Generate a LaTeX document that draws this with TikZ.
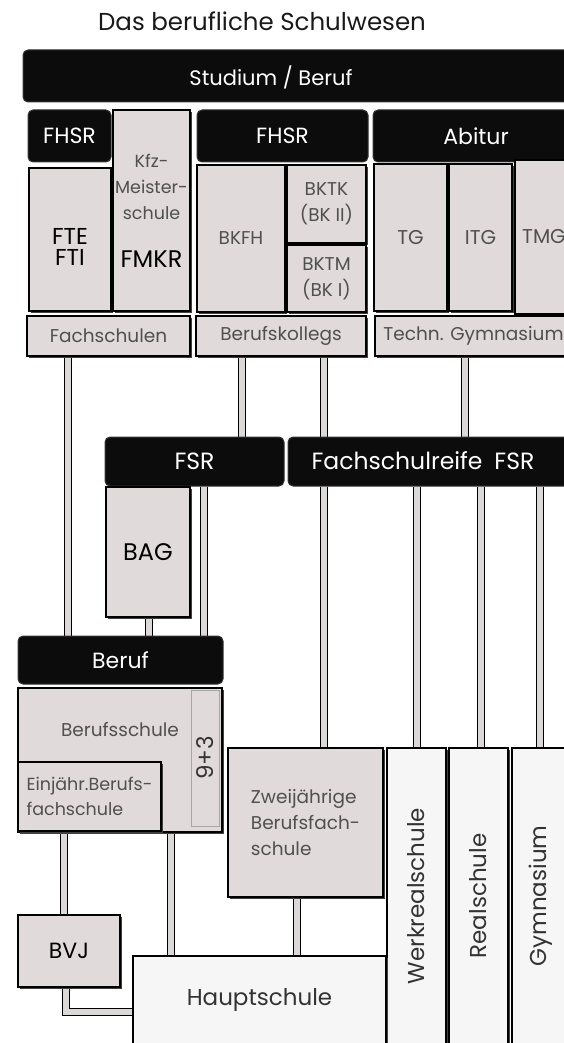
\documentclass[tikz,border=0pt]{standalone}
\usepackage{fontspec}
\usepackage{graphicx}
\setmainfont{Poppins}
\usetikzlibrary{shadows,backgrounds}
\definecolor{boxgray}{HTML}{E0DADA}
\definecolor{boxwhite}{HTML}{F7F6F6}
\definecolor{pipegray}{HTML}{DCD8D8}
\definecolor{txtgray}{HTML}{505050}
\definecolor{barblack}{HTML}{0C0C0C}
% #1 style, #2 name, #3 x1, #4 y1, #5 x2, #6 y2, #7 text
\newcommand{\bxnode}[7]{%
  \node[#1, minimum width={((#5)-(#3))*1pt}, minimum height={((#6)-(#4))*1pt}]
    (#2) at ({((#3)+(#5))/2},{((#4)+(#6))/2}) {#7};}
\begin{document}
\begin{tikzpicture}[x=1pt,y=-1pt,
  gbox/.style={draw=black, line width=1.1pt, fill=boxgray, inner sep=0pt, text=txtgray,
    font=\fontsize{18.5}{26}\selectfont, align=center,
    drop shadow={shadow xshift=1.8pt, shadow yshift=-1.8pt, opacity=1, fill=black!75}},
  wbox/.style={gbox, fill=boxwhite},
  bbar/.style={draw=black!80, line width=1pt, fill=barblack, rounded corners=5pt, inner sep=0pt,
    text=white, font=\fontsize{22}{24}\selectfont},
  bigfont/.style={text=black, font=\fontsize{23}{21}\selectfont},
  bartxt/.style={text=white, font=\fontsize{21}{24}\selectfont},
  smalltxt/.style={text=txtgray, font=\fontsize{18.5}{26}\selectfont},
  vertfont/.style={text=black!80, font=\fontsize{23}{24}\selectfont},
  pipe/.style={draw=black, line width=1.3pt, double=pipegray, double distance=6pt}
]
\useasboundingbox (0,0) rectangle (564,1043);
\clip (0,0) rectangle (564,1043);

% title
\node[font=\fontsize{24.5}{28}\selectfont, text=black!90] (title) at (262,21) {Das berufliche Schulwesen};

% top bar
\bxnode{bbar}{studium}{23}{50}{620}{102}{}
\node[bartxt] (studiumtxt) at (271,77) {Studium / Beruf};

% Fachschulen column
\bxnode{bbar}{fhsr1}{28}{110}{111}{162}{FHSR}
\bxnode{gbox}{fte}{29}{168}{111}{311}{}
\node[bigfont, align=center] (ftetxt) at (70,247) {FTE\\FTI};
\bxnode{gbox,font=\fontsize{17.5}{26}\selectfont}{kfz}{113}{110}{190}{311}{Kfz-\\Meister-\\schule\\[22pt]{\color{black}\fontsize{24}{24}\selectfont FMKR}}
\bxnode{gbox}{fachschulen}{27}{316}{190}{356}{Fachschulen}

% Berufskollegs column
\bxnode{bbar}{fhsr2}{197}{110}{368}{162}{FHSR}
\bxnode{gbox}{bkfh}{197}{165}{285}{312}{BKFH}
\bxnode{gbox}{bktk}{287}{165}{366}{243}{BKTK\\(BK II)}
\bxnode{gbox}{bktm}{287}{245}{366}{312}{BKTM\\(BK I)}
\bxnode{gbox}{berufskollegs}{196}{316}{366}{356}{Berufskollegs}

% Technisches Gymnasium column
\bxnode{bbar}{abitur}{373}{110}{579}{162}{Abitur}
\bxnode{gbox,font=\fontsize{20}{24}\selectfont}{tg}{374}{164}{447}{311}{TG}
\bxnode{gbox,font=\fontsize{20}{24}\selectfont}{itg}{449}{164}{512}{311}{ITG}
\bxnode{gbox,font=\fontsize{20}{24}\selectfont}{tmg}{515}{160}{573}{314}{TMG}
\bxnode{gbox}{techgym}{375}{316}{572}{356}{Techn. Gymnasium}

% FSR bars
\bxnode{bbar,font=\fontsize{23.5}{24}\selectfont}{fsr1}{105}{437}{284}{486}{FSR}
\bxnode{bbar}{fsr2}{288}{437}{620}{486}{}
\node[bartxt, font=\fontsize{23.5}{24}\selectfont] (fsr2txt) at (423,461) {Fachschulreife\hspace{12pt}FSR};
\bxnode{gbox,bigfont,font=\fontsize{24}{24}\selectfont}{bag}{106}{487}{190}{617}{BAG}

% Beruf / Berufsschule
\bxnode{bbar}{beruf}{18}{636}{223}{684}{Beruf}
\bxnode{gbox}{berufsschule}{18}{688}{222}{832}{}
\node[smalltxt] (bstxt) at (120,730) {Berufsschule};
\bxnode{draw=black!35, line width=0.6pt, fill=boxgray, inner sep=0pt, text=black!80, font=\fontsize{23}{24}\selectfont}{neunplus}{191}{690}{219}{826}{\rotatebox{90}{9+3}}
\bxnode{gbox, align=left, font=\fontsize{17.5}{25}\selectfont}{ein}{18}{762}{161}{831}{Einjähr.Berufs-\\fachschule}

% Zweijaehrige Berufsfachschule
\bxnode{gbox, align=left}{zweij}{228}{748}{383}{897}{Zweijährige\\Berufsfach-\\schule}

% Werkrealschule, Realschule, Gymnasium
\bxnode{wbox,vertfont}{werk}{387}{748}{446}{1044}{\rotatebox{90}{Werkrealschule}}
\bxnode{wbox,vertfont}{real}{449}{748}{508}{1044}{\rotatebox{90}{Realschule}}
\bxnode{wbox,vertfont}{gym}{512}{748}{570}{1044}{\rotatebox{90}{Gymnasium}}

% BVJ and Hauptschule
\bxnode{gbox,bigfont,font=\fontsize{22}{24}\selectfont}{bvj}{18}{915}{120}{987}{BVJ}
\bxnode{wbox,vertfont}{haupt}{133}{956}{386}{1044}{Hauptschule}

% pipe x positions
\coordinate (x1) at (68,0);
\coordinate (x2) at (242,0);
\coordinate (x3) at (324,0);
\coordinate (x4) at (465,0);
\coordinate (x5) at (204,0);
\coordinate (x6) at (149,0);
\coordinate (x8) at (417,0);
\coordinate (x9) at (481,0);
\coordinate (x10) at (540,0);
\coordinate (x11) at (64,0);
\coordinate (x12) at (171,0);
\coordinate (x13) at (297,0);
\coordinate (bend) at (66,1012);

\begin{scope}[on background layer]
\draw[pipe] (fachschulen.south -| x1) -- (beruf.north -| x1);
\draw[pipe] (berufskollegs.south -| x2) -- (fsr1.north -| x2);
\draw[pipe] (berufskollegs.south -| x3) -- (fsr2.north -| x3);
\draw[pipe] (techgym.south -| x4) -- (fsr2.north -| x4);
\draw[pipe] (fsr1.south -| x5) -- (beruf.north -| x5);
\draw[pipe] (bag.south -| x6) -- (beruf.north -| x6);
\draw[pipe] (fsr2.south -| x3) -- (zweij.north -| x3);
\draw[pipe] (fsr2.south -| x8) -- (werk.north -| x8);
\draw[pipe] (fsr2.south -| x9) -- (real.north -| x9);
\draw[pipe] (fsr2.south -| x10) -- (gym.north -| x10);
\draw[pipe] (berufsschule.south -| x11) -- (bvj.north -| x11);
\draw[pipe] (berufsschule.south -| x12) -- (haupt.north -| x12);
\draw[pipe] (zweij.south -| x13) -- (haupt.north -| x13);
\draw[pipe] (bvj.south -| bend) -- (bend) -- (haupt.west |- bend);
\end{scope}
\end{tikzpicture}
\end{document}
